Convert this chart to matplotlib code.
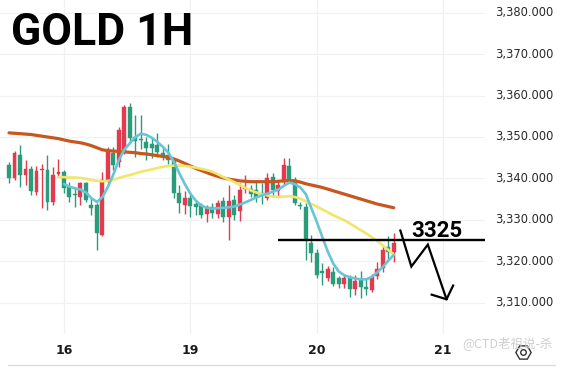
import matplotlib
matplotlib.use("Agg")
import matplotlib.pyplot as plt
import numpy as np

# ---------------- data (hourly candles) ----------------
opens = [3343.3, 3340.0, 3345.7, 3340.9, 3342.3, 3336.8, 3342.0, 3342.0, 3334.3, 3341.0,
         3341.6, 3338.0, 3336.2, 3335.6, 3338.9, 3333.6, 3333.6, 3326.4, 3339.7, 3346.2,
         3344.0, 3346.4, 3357.3, 3350.0, 3349.4, 3348.8, 3348.3, 3348.1, 3346.2, 3345.7,
         3344.5, 3336.5, 3333.6, 3335.3, 3333.8, 3333.6, 3331.4, 3333.0, 3331.4, 3334.5,
         3330.6, 3334.8, 3332.0, 3337.4, 3337.5, 3337.3, 3336.5, 3335.3, 3340.3, 3337.0,
         3339.2, 3343.0, 3339.7, 3333.6, 3333.1, 3324.4, 3322.0, 3317.5, 3315.9, 3317.5,
         3315.9, 3314.6, 3315.9, 3313.3, 3315.6, 3313.8, 3313.0, 3316.5, 3318.4, 3323.5,
         3322.3]
highs = [3344.0, 3346.5, 3348.1, 3344.5, 3343.0, 3343.0, 3343.5, 3345.7, 3342.8, 3344.7,
         3342.0, 3339.2, 3337.8, 3339.2, 3339.2, 3335.6, 3334.0, 3341.6, 3347.5, 3347.5,
         3352.4, 3357.8, 3358.3, 3355.4, 3355.4, 3350.0, 3350.0, 3351.0, 3347.5, 3348.4,
         3345.0, 3338.4, 3337.0, 3336.7, 3334.8, 3334.0, 3333.6, 3334.0, 3334.8, 3335.5,
         3338.5, 3336.0, 3338.9, 3340.9, 3338.5, 3339.5, 3339.0, 3341.4, 3341.2, 3339.6,
         3345.0, 3345.0, 3340.3, 3334.3, 3334.0, 3326.2, 3323.0, 3319.5, 3318.8, 3318.5,
         3316.5, 3316.8, 3316.6, 3316.6, 3317.7, 3316.0, 3317.0, 3319.8, 3323.8, 3326.0,
         3326.9]
lows = [3339.0, 3339.5, 3338.0, 3338.5, 3336.0, 3336.0, 3332.9, 3332.4, 3333.5, 3340.3,
        3336.5, 3334.3, 3333.0, 3333.6, 3334.3, 3331.2, 3322.8, 3326.0, 3338.9, 3342.0,
        3342.8, 3346.0, 3349.0, 3345.2, 3347.0, 3344.5, 3345.0, 3345.2, 3344.5, 3343.5,
        3335.2, 3331.6, 3331.5, 3330.6, 3331.2, 3330.4, 3329.5, 3330.5, 3330.5, 3329.5,
        3325.2, 3330.0, 3329.7, 3336.5, 3335.5, 3334.3, 3333.8, 3334.8, 3335.8, 3335.6,
        3338.5, 3338.9, 3333.6, 3332.5, 3320.3, 3319.8, 3316.0, 3314.2, 3315.3, 3314.0,
        3313.5, 3313.6, 3311.4, 3311.8, 3311.2, 3311.8, 3312.5, 3315.7, 3317.5, 3320.3,
        3319.8]
closes = [3340.1, 3346.2, 3340.9, 3342.3, 3337.0, 3341.8, 3342.2, 3334.3, 3340.9, 3341.6,
          3337.7, 3335.6, 3335.9, 3338.9, 3334.8, 3332.9, 3326.9, 3339.7, 3346.4, 3343.3,
          3351.7, 3357.3, 3349.8, 3349.0, 3349.2, 3347.3, 3347.3, 3346.4, 3345.2, 3344.5,
          3336.5, 3334.1, 3335.3, 3333.4, 3333.2, 3331.2, 3333.1, 3331.7, 3334.1, 3330.6,
          3334.5, 3331.2, 3337.2, 3337.6, 3336.3, 3335.6, 3336.0, 3340.1, 3337.2, 3338.5,
          3343.3, 3339.7, 3334.1, 3333.3, 3325.2, 3322.0, 3316.7, 3317.2, 3318.0, 3314.6,
          3314.6, 3315.9, 3313.3, 3315.2, 3313.8, 3313.2, 3316.2, 3318.2, 3322.8, 3322.3,
          3324.4]

ma_fast = [None] * 10 + [
    3338.6, 3338.0, 3337.6, 3337.3, 3336.6, 3335.2, 3334.3, 3335.5, 3338.0, 3341.0,
    3344.5, 3347.0, 3348.5, 3350.0, 3350.8, 3350.5, 3349.8, 3348.8, 3347.6, 3346.2,
    3344.0, 3341.2, 3338.6, 3336.3, 3334.6, 3333.4, 3332.9, 3332.7, 3332.8, 3332.9,
    3333.0, 3333.2, 3333.7, 3334.2, 3334.8, 3335.4, 3335.9, 3336.3, 3336.8, 3337.3,
    3338.2, 3339.0, 3338.6, 3337.8, 3336.2, 3332.8, 3329.5, 3325.8, 3322.3, 3319.4,
    3317.5, 3316.6, 3316.1, 3315.8, 3315.6, 3315.6, 3316.2, 3317.3, 3318.6, 3320.1,
    3321.5]
ma_mid = [None] * 9 + [
    3340.3, 3340.3, 3340.2, 3340.2, 3340.1, 3339.9, 3339.6, 3339.4, 3339.3, 3339.4,
    3339.7, 3340.1, 3340.5, 3340.8, 3341.2, 3341.6, 3341.9, 3342.2, 3342.5, 3342.8,
    3343.0, 3343.1, 3343.1, 3343.0, 3342.8, 3342.6, 3342.3, 3342.0, 3341.6, 3341.0,
    3340.3, 3339.7, 3339.1, 3338.4, 3337.7, 3337.1, 3336.6, 3336.2, 3335.9, 3335.6,
    3335.5, 3335.6, 3335.7, 3335.5, 3335.1, 3334.5, 3333.8, 3333.2, 3332.5, 3331.8,
    3331.1, 3330.5, 3329.9, 3329.1, 3328.3, 3327.5, 3326.7, 3325.8, 3324.9, 3323.8,
    3322.7, 3321.6]
ma_slow = [3351.0, 3350.9, 3350.8, 3350.7, 3350.6, 3350.4, 3350.2, 3350.0, 3349.8, 3349.6,
           3349.3, 3349.0, 3348.8, 3348.6, 3348.3, 3347.9, 3347.4, 3346.9, 3346.7, 3346.6,
           3346.5, 3346.4, 3346.3, 3346.2, 3346.0, 3345.9, 3345.7, 3345.5, 3345.3, 3345.1,
           3344.7, 3344.2, 3343.6, 3343.0, 3342.4, 3341.9, 3341.4, 3340.9, 3340.5, 3340.1,
           3339.8, 3339.6, 3339.4, 3339.3, 3339.2, 3339.2, 3339.2, 3339.2, 3339.2, 3339.3,
           3339.4, 3339.5, 3339.4, 3339.1, 3338.7, 3338.4, 3338.1, 3337.8, 3337.4, 3337.0,
           3336.6, 3336.2, 3335.8, 3335.4, 3335.0, 3334.6, 3334.2, 3333.8, 3333.5, 3333.2,
           3332.9]

day_labels = ["16", "19", "20", "21"]
day_starts = [10, 33, 56, 79]          # candle index where each day begins
price_ticks = [3310, 3320, 3330, 3340, 3350, 3360, 3370, 3380]
level = 3325
level_label = "3325"
# projected path (index, price) of the hand-drawn arrow
path_x = [71.2, 73.2, 76.2, 79.6]
path_y = [3327.4, 3318.7, 3324.0, 3310.8]

# ---------------- figure ----------------
W, H = 569, 370
fig = plt.figure(figsize=(W / 100, H / 100), dpi=100)
fig.patch.set_facecolor("white")
ax = fig.add_axes([0, 1 - 334 / H, 485 / W, 334 / H])
ax.set_facecolor("white")

n = len(opens)
xs = np.arange(n)
up_col = "#e23a4e"
dn_col = "#2a9b7b"
cols = [up_col if c >= o else dn_col for o, c in zip(opens, closes)]

ax.vlines(xs, lows, highs, colors=cols, linewidth=1.0, zorder=3)
bottoms = [min(o, c) for o, c in zip(opens, closes)]
heights = [max(abs(c - o), 0.35) for o, c in zip(opens, closes)]
ax.bar(xs, heights, bottom=bottoms, width=0.72, color=cols, edgecolor=cols,
       linewidth=0.3, zorder=4)

def series(vals):
    x = [i for i, v in enumerate(vals) if v is not None]
    y = [v for v in vals if v is not None]
    return x, y

ax.plot(*series(ma_slow), color="#c9561f", lw=2.3, zorder=5, solid_capstyle="round")
ax.plot(*series(ma_mid), color="#f2e56b", lw=1.9, zorder=5, solid_capstyle="round")
ax.plot(*series(ma_fast), color="#66c5d6", lw=1.9, zorder=6, solid_capstyle="round")

# horizontal level + label
ax.plot([48.9, 86.6], [level, level], color="black", lw=1.7, zorder=7,
        solid_capstyle="butt")
ax.text(77.9, 3325.9, level_label, fontsize=16, fontweight="bold",
        family="Roboto", ha="center", va="baseline", color="black", zorder=8)

# zigzag arrow
ax.plot(path_x, path_y, color="black", lw=1.6, zorder=8, solid_joinstyle="miter")
ax.plot([76.9, path_x[-1], 80.8], [3311.9, path_y[-1], 3314.1], color="black",
        lw=1.6, zorder=8)

# axes limits / grid
ax.set_xlim(-1.64, 86.6)
ax.set_ylim(3302.4, 3383.1)
for p in price_ticks:
    ax.axhline(p, color="#f1f1f1", lw=0.9, zorder=0)
for d in day_starts:
    ax.axvline(d, color="#f1f1f1", lw=0.9, zorder=0)
for s in ax.spines.values():
    s.set_visible(False)
ax.set_xticks([])
ax.set_yticks([])

# price labels on the right
for p in price_ticks:
    yfig = ax.transData.transform((0, p))[1] / H
    fig.text(553 / W, yfig, f"{p:,.3f}", fontsize=8.3, ha="right", va="center",
             color="#2a2a2a", family="DejaVu Sans")

# day labels below
for lab, d in zip(day_labels, day_starts):
    xfig = ax.transData.transform((d, 0))[0] / W
    fig.text(xfig, 1 - 350 / H, lab, fontsize=9, ha="center", va="center",
             color="#1a1a1a", fontweight="bold", family="DejaVu Sans")

# bottom rule
fig.add_artist(plt.Line2D([8 / W, 555 / W], [1 - 365 / H, 1 - 365 / H],
                          color="#dddddd", lw=1.0))

# title
fig.text(11 / W, 1 - 45 / H, "GOLD 1H", fontsize=32, fontweight="bold",
         family="Roboto", ha="left", va="baseline", color="black")

# faint watermark & settings icon
fig.text(462 / W, 1 - 343 / H, "@CTD老祖说-杀", fontsize=9, color="#cfcfcf",
         family=["Noto Sans CJK SC", "DejaVu Sans"], ha="left", va="center")
fig.add_artist(plt.Line2D([523 / W], [1 - 352 / H], marker="H", markersize=11,
                          markerfacecolor="none", markeredgecolor="#333333",
                          markeredgewidth=1.0, linestyle="none"))
fig.add_artist(plt.Line2D([523 / W], [1 - 352 / H], marker="o", markersize=4,
                          markerfacecolor="none", markeredgecolor="#333333",
                          markeredgewidth=1.0, linestyle="none"))

fig.savefig("out.png", dpi=100, facecolor="white")
